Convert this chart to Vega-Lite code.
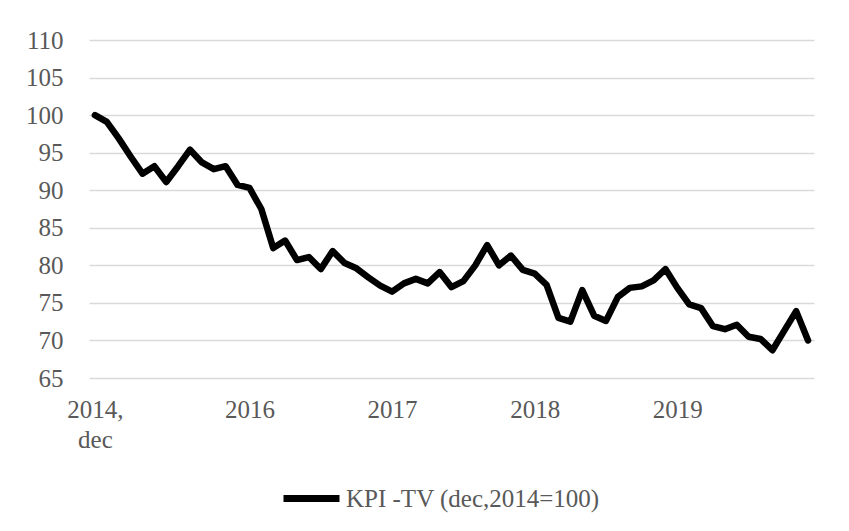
{
  "$schema": "https://vega.github.io/schema/vega-lite/v6.json",
  "width": 725,
  "height": 338,
  "autosize": {"type": "none"},
  "padding": {"left": 89, "top": 40, "right": 35, "bottom": 153},
  "background": "#ffffff",
  "config": {
    "font": "Liberation Serif",
    "view": {"stroke": null},
    "axis": {"labelFont": "Liberation Serif", "labelFontSize": 25, "labelColor": "#595959"}
  },
  "data": {
    "values": [
      {"month": "2014-12", "value": 100},
      {"month": "2015-01", "value": 99.1},
      {"month": "2015-02", "value": 96.9},
      {"month": "2015-03", "value": 94.5},
      {"month": "2015-04", "value": 92.2},
      {"month": "2015-05", "value": 93.2},
      {"month": "2015-06", "value": 91.1},
      {"month": "2015-07", "value": 93.2},
      {"month": "2015-08", "value": 95.4},
      {"month": "2015-09", "value": 93.7},
      {"month": "2015-10", "value": 92.8},
      {"month": "2015-11", "value": 93.2},
      {"month": "2015-12", "value": 90.7},
      {"month": "2016-01", "value": 90.3},
      {"month": "2016-02", "value": 87.5},
      {"month": "2016-03", "value": 82.3},
      {"month": "2016-04", "value": 83.3},
      {"month": "2016-05", "value": 80.7},
      {"month": "2016-06", "value": 81.1},
      {"month": "2016-07", "value": 79.5},
      {"month": "2016-08", "value": 81.9},
      {"month": "2016-09", "value": 80.3},
      {"month": "2016-10", "value": 79.6},
      {"month": "2016-11", "value": 78.4},
      {"month": "2016-12", "value": 77.3},
      {"month": "2017-01", "value": 76.5},
      {"month": "2017-02", "value": 77.6},
      {"month": "2017-03", "value": 78.2},
      {"month": "2017-04", "value": 77.6},
      {"month": "2017-05", "value": 79.1},
      {"month": "2017-06", "value": 77.1},
      {"month": "2017-07", "value": 77.9},
      {"month": "2017-08", "value": 80.0},
      {"month": "2017-09", "value": 82.7},
      {"month": "2017-10", "value": 80.0},
      {"month": "2017-11", "value": 81.3},
      {"month": "2017-12", "value": 79.4},
      {"month": "2018-01", "value": 78.9},
      {"month": "2018-02", "value": 77.4},
      {"month": "2018-03", "value": 73.0},
      {"month": "2018-04", "value": 72.5},
      {"month": "2018-05", "value": 76.7},
      {"month": "2018-06", "value": 73.3},
      {"month": "2018-07", "value": 72.6},
      {"month": "2018-08", "value": 75.8},
      {"month": "2018-09", "value": 77.0},
      {"month": "2018-10", "value": 77.2},
      {"month": "2018-11", "value": 78.0},
      {"month": "2018-12", "value": 79.5},
      {"month": "2019-01", "value": 77.0},
      {"month": "2019-02", "value": 74.8},
      {"month": "2019-03", "value": 74.3},
      {"month": "2019-04", "value": 71.9},
      {"month": "2019-05", "value": 71.5},
      {"month": "2019-06", "value": 72.1},
      {"month": "2019-07", "value": 70.5},
      {"month": "2019-08", "value": 70.2},
      {"month": "2019-09", "value": 68.7},
      {"month": "2019-10", "value": 71.3},
      {"month": "2019-11", "value": 73.9},
      {"month": "2019-12", "value": 70.0}
    ]
  },
  "mark": {"type": "line", "strokeWidth": 6.5, "strokeCap": "round", "strokeJoin": "round"},
  "encoding": {
    "x": {
      "field": "month",
      "type": "ordinal",
      "sort": "ascending",
      "scale": {"type": "point", "padding": 0.5},
      "axis": {
        "title": null,
        "values": ["2014-12", "2016-01", "2017-01", "2018-01", "2019-01"],
        "labelExpr": "datum.value == '2014-12' ? ['2014,', 'dec'] : slice(datum.value, 0, 4)",
        "labelAngle": 0,
        "labelFontSize": 25,
        "labelLineHeight": 30,
        "labelPadding": 19,
        "labelBaseline": "top",
        "domain": false,
        "ticks": false,
        "grid": false
      }
    },
    "y": {
      "field": "value",
      "type": "quantitative",
      "scale": {"domain": [65, 110], "nice": false, "zero": false},
      "axis": {
        "title": null,
        "values": [65, 70, 75, 80, 85, 90, 95, 100, 105, 110],
        "labelFontSize": 25,
        "domain": false,
        "ticks": false,
        "labelPadding": 26,
        "grid": true,
        "gridColor": "#d9d9d9",
        "gridWidth": 1.3
      }
    },
    "color": {
      "datum": "KPI -TV (dec,2014=100)",
      "type": "nominal",
      "scale": {"range": ["#000000"]},
      "legend": {
        "title": null,
        "orient": "none",
        "legendX": 191,
        "legendY": 427,
        "symbolType": "stroke",
        "symbolSize": 3136,
        "symbolStrokeWidth": 7,
        "symbolStrokeColor": "#000000",
        "labelFont": "Liberation Serif",
        "labelFontSize": 25,
        "labelLimit": 0,
        "labelColor": "#595959",
        "labelOffset": 3,
        "padding": 0
      }
    }
  }
}
